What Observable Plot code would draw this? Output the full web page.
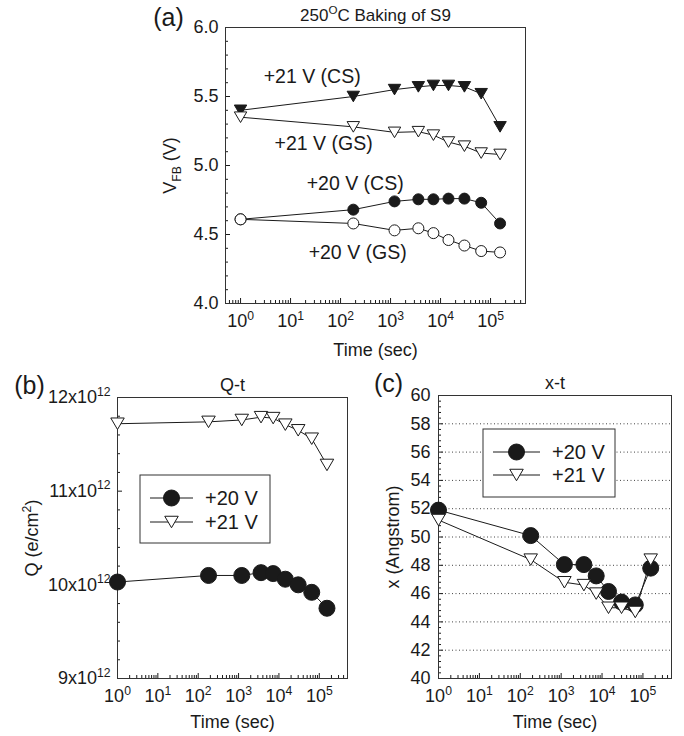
<!DOCTYPE html>
<html><head><meta charset="utf-8">
<script src="https://cdn.jsdelivr.net/npm/d3@7"></script>
<script src="https://cdn.jsdelivr.net/npm/@observablehq/plot@0.6"></script>
<style>
html,body{margin:0;padding:0;background:#fff;}
#fig{position:relative;width:684px;height:736px;overflow:hidden;}
#fig svg{position:absolute;max-width:none;}
</style></head><body><div id="fig"></div>
<script>
// ---------- data ----------
const times   = [1, 180, 1200, 3600, 7200, 14400, 30000, 65000, 155000];
const vfbCS21 = [5.40, 5.50, 5.55, 5.57, 5.58, 5.58, 5.57, 5.52, 5.28];
const vfbGS21 = [5.35, 5.28, 5.24, 5.245, 5.22, 5.17, 5.14, 5.09, 5.08];
const vfbCS20 = [4.61, 4.68, 4.74, 4.755, 4.755, 4.76, 4.76, 4.73, 4.58];
const vfbGS20 = [4.61, 4.58, 4.53, 4.545, 4.51, 4.46, 4.42, 4.38, 4.37];
const q20 = [10.03, 10.10, 10.10, 10.13, 10.12, 10.06, 10.00, 9.92, 9.75];
const q21 = [11.72, 11.74, 11.76, 11.79, 11.78, 11.71, 11.65, 11.56, 11.28];
const x20 = [51.9, 50.1, 48.05, 48.05, 47.25, 46.15, 45.4, 45.2, 47.8];
const x21 = [51.2, 48.4, 46.8, 46.6, 46.0, 45.0, 45.0, 44.7, 48.4];
const seriesNames = ["+20 V", "+21 V"];
const annoText = ["+21 V (CS)", "+21 V (GS)", "+20 V (CS)", "+20 V (GS)"];
const annoT = [2.9, 4.8, 21, 23];
const annoV = [5.64, 5.16, 4.87, 4.37];
const decadeTicks = [1, 10, 100, 1000, 10000, 100000];
const vfbTicks = [4.0, 4.5, 5.0, 5.5, 6.0];
const qTicks = [9, 10, 11, 12];
const xTicks = [40, 42, 44, 46, 48, 50, 52, 54, 56, 58, 60];

// ---------- helpers ----------
const FONT = "'Liberation Sans', Arial, Helvetica, sans-serif";
const INK = "#1a1a1a";
const FS = 18;
const rows = ys => times.map((t, i) => ({t, v: ys[i]}));
const triDown = {draw(ctx, size) {
  const r = Math.sqrt(size / Math.PI), a = 1.35 * r, h = 2.3 * r;
  ctx.moveTo(-a, -h / 2); ctx.lineTo(a, -h / 2); ctx.lineTo(0, h / 2); ctx.closePath();
}};
const supFmt = d => `10^{${Math.round(Math.log10(d))}}`;
function minorLog(lo, hi) {
  const out = [];
  for (let k = -2; k <= 7; k++) for (let m = 2; m <= 9; m++) {
    const v = m * Math.pow(10, k);
    if (v > lo * 1.0001 && v < hi * 0.9999) out.push(v);
  }
  return out;
}
function minorLin(lo, hi, step, major) {
  const out = [];
  const n = Math.round((hi - lo) / step);
  for (let i = 1; i < n; i++) {
    const v = +(lo + i * step).toFixed(6);
    if (!major.some(m => Math.abs(m - v) < 1e-6)) out.push(v);
  }
  return out;
}
function style() {
  return {fontFamily: FONT, fontSize: FS + "px", color: INK, background: "none", overflow: "visible"};
}
function rich(svg) {
  svg.querySelectorAll("text").forEach(el => {
    const s = el.textContent;
    if (!/[\^_]\{/.test(s) || el.querySelector("tspan")) return;
    const fs = parseFloat(getComputedStyle(el).fontSize) || FS;
    el.textContent = "";
    const re = /([\^_])\{([^}]*)\}/g;
    let last = 0, m, shift = 0;
    const add = (txt, kind) => {
      if (!txt) return;
      const ts = document.createElementNS("http://www.w3.org/2000/svg", "tspan");
      const target = kind === "^" ? -0.42 * fs : kind === "_" ? 0.28 * fs : 0;
      const dy = target - shift;
      if (dy) ts.setAttribute("dy", dy.toFixed(2));
      shift = target;
      if (kind) ts.setAttribute("font-size", (0.68 * fs).toFixed(1));
      ts.textContent = txt;
      el.appendChild(ts);
    };
    while ((m = re.exec(s))) { add(s.slice(last, m.index), null); add(m[2], m[1]); last = re.lastIndex; }
    add(s.slice(last), null);
  });
}
function place(svg, left, top) {
  svg.style.left = left + "px"; svg.style.top = top + "px";
  document.getElementById("fig").appendChild(svg);
  rich(svg);
}
function legend(svg, box, rowY, lineX, textX, items) {
  const g = d3.select(svg).append("g");
  g.append("rect").attr("x", box[0]).attr("y", box[1]).attr("width", box[2]).attr("height", box[3])
    .attr("fill", "white").attr("stroke", "#333").attr("stroke-width", 1);
  items.forEach((it, i) => {
    const y = rowY[i];
    g.append("line").attr("x1", lineX[0]).attr("x2", lineX[1]).attr("y1", y).attr("y2", y)
      .attr("stroke", INK).attr("stroke-width", 1);
    g.append("path").attr("d", d3.symbol(it.symbol, Math.PI * it.r * it.r)())
      .attr("transform", `translate(${(lineX[0] + lineX[1]) / 2},${y})`)
      .attr("fill", it.fill).attr("stroke", INK).attr("stroke-width", 1);
    g.append("text").attr("x", textX).attr("y", y).attr("dy", "0.36em").attr("text-anchor", "start")
      .attr("font-family", FONT).attr("font-size", 20).attr("fill", INK).text(it.label);
  });
}
function label(txt, frameAnchor, dx, dy, fontSize, rotate = 0) {
  return Plot.text([txt], {frameAnchor, dx, dy, rotate, text: d => d, fontSize, fill: INK,
    textAnchor: "middle", lineAnchor: "middle"});
}
function axesMarks(innerW, innerH, xMinor, yMajor, yMinor, yFmt, yPad) {
  return [
    Plot.tickX(decadeTicks, {x: d => d, insetTop: innerH - 5, stroke: INK}),
    Plot.tickX(xMinor, {x: d => d, insetTop: innerH - 3, stroke: INK}),
    Plot.tickY(yMajor, {y: d => d, insetRight: innerW - 5, stroke: INK}),
    Plot.tickY(yMinor, {y: d => d, insetRight: innerW - 3, stroke: INK}),
    Plot.axisX({ticks: decadeTicks, tickSize: 0, tickPadding: 11, tickFormat: supFmt, label: null, fontSize: FS}),
    Plot.axisY({ticks: yMajor, tickSize: 0, tickPadding: yPad, tickFormat: yFmt, label: null, fontSize: FS}),
    Plot.frame({stroke: "#333", strokeWidth: 1})
  ];
}

// ---------- panel (a) ----------
{
  const W = 560, H = 360, m = [225, 35, 27, 57];
  const iW = W - m[0] - m[1], iH = H - m[2] - m[3];
  const yDom = [4, 6], xDom = [0.5, 5e5];
  const anno = annoText.map((s, i) => ({s, t: annoT[i], v: annoV[i]}));
  const p = Plot.plot({
    width: W, height: H, marginLeft: m[0], marginRight: m[1], marginTop: m[2], marginBottom: m[3],
    style: style(),
    x: {type: "log", domain: xDom, axis: null},
    y: {domain: yDom, axis: null},
    marks: [
      ...axesMarks(iW, iH, minorLog(...xDom), vfbTicks, minorLin(4, 6, 0.1, vfbTicks), d3.format(".1f"), 7),
      Plot.line(rows(vfbCS21), {x: "t", y: "v", stroke: INK, strokeWidth: 1}),
      Plot.line(rows(vfbGS21), {x: "t", y: "v", stroke: INK, strokeWidth: 1}),
      Plot.line(rows(vfbCS20), {x: "t", y: "v", stroke: INK, strokeWidth: 1}),
      Plot.line(rows(vfbGS20), {x: "t", y: "v", stroke: INK, strokeWidth: 1}),
      Plot.dot(rows(vfbCS21), {x: "t", y: "v", symbol: triDown, r: 4.6, fill: INK, stroke: INK, strokeWidth: 1}),
      Plot.dot(rows(vfbGS21), {x: "t", y: "v", symbol: triDown, r: 4.6, fill: "white", stroke: INK, strokeWidth: 1}),
      Plot.dot(rows(vfbCS20), {x: "t", y: "v", r: 5.5, fill: INK, stroke: INK, strokeWidth: 1}),
      Plot.dot(rows(vfbGS20), {x: "t", y: "v", r: 5.5, fill: "white", stroke: INK, strokeWidth: 1}),
      Plot.text(anno, {x: "t", y: "v", text: "s", textAnchor: "start", fontSize: 19.5, fill: INK}),
      label("250^{O}C Baking of S9", "top", 0, -12, 17),
      label("(a)", "top-left", -57, -10, 25),
      label("V_{FB} (V)", "left", -55, 0, FS, -90),
      label("Time (sec)", "bottom", 0, 47, FS)
    ]
  });
  place(p, 0, 0);
}

// ---------- panel (b) ----------
{
  const W = 350, H = 376, m = [117, 3, 37, 58];
  const iW = W - m[0] - m[1], iH = H - m[2] - m[3];
  const yDom = [9, 12], xDom = [1, 5e5];
  const p = Plot.plot({
    width: W, height: H, marginLeft: m[0], marginRight: m[1], marginTop: m[2], marginBottom: m[3],
    style: style(),
    x: {type: "log", domain: xDom, axis: null},
    y: {domain: yDom, axis: null},
    marks: [
      ...axesMarks(iW, iH, minorLog(...xDom), qTicks, minorLin(9, 12, 0.2, qTicks), d => `${d}x10^{12}`, 7),
      Plot.line(rows(q20), {x: "t", y: "v", stroke: INK, strokeWidth: 1}),
      Plot.line(rows(q21), {x: "t", y: "v", stroke: INK, strokeWidth: 1}),
      Plot.dot(rows(q20), {x: "t", y: "v", r: 8, fill: INK, stroke: INK, strokeWidth: 1}),
      Plot.dot(rows(q21), {x: "t", y: "v", symbol: triDown, r: 5, fill: "white", stroke: INK, strokeWidth: 1}),
      label("Q-t", "top", 0, -12, FS),
      label("(b)", "top-left", -88, -12, 25),
      label("Q (e/cm^{2})", "left", -85, 0, FS, -90),
      label("Time (sec)", "bottom", 0, 44, FS)
    ]
  });
  legend(p, [140, 115, 130, 68], [138, 162], [150, 193], 205, [
    {label: seriesNames[0], symbol: d3.symbolCircle, r: 8, fill: INK},
    {label: seriesNames[1], symbol: triDown, r: 5, fill: "white"}
  ]);
  place(p, 0, 360);
}

// ---------- panel (c) ----------
{
  const W = 334, H = 376, m = [88, 13, 35, 58];
  const iW = W - m[0] - m[1], iH = H - m[2] - m[3];
  const yDom = [40, 60], xDom = [1, 5e5];
  const p = Plot.plot({
    width: W, height: H, marginLeft: m[0], marginRight: m[1], marginTop: m[2], marginBottom: m[3],
    style: style(),
    x: {type: "log", domain: xDom, axis: null},
    y: {domain: yDom, axis: null},
    marks: [
      Plot.gridY(xTicks.slice(1, -1), {stroke: "#444", strokeOpacity: 1, strokeWidth: 1, strokeDasharray: "1,2.5"}),
      ...axesMarks(iW, iH, minorLog(...xDom), xTicks, minorLin(40, 60, 0.4, xTicks), d3.format("d"), 8),
      Plot.line(rows(x20), {x: "t", y: "v", stroke: INK, strokeWidth: 1}),
      Plot.line(rows(x21), {x: "t", y: "v", stroke: INK, strokeWidth: 1}),
      Plot.dot(rows(x20), {x: "t", y: "v", r: 8, fill: INK, stroke: INK, strokeWidth: 1}),
      Plot.dot(rows(x21), {x: "t", y: "v", symbol: triDown, r: 5, fill: "white", stroke: INK, strokeWidth: 1}),
      label("x-t", "top", 0, -12, FS),
      label("(c)", "top-left", -50, -12, 25),
      label("x (Angstrom)", "left", -45, 0, FS, -90),
      label("Time (sec)", "bottom", 0, 44, FS)
    ]
  });
  legend(p, [133, 69, 132, 68], [92, 115], [143, 190], 202, [
    {label: seriesNames[0], symbol: d3.symbolCircle, r: 8, fill: INK},
    {label: seriesNames[1], symbol: triDown, r: 5, fill: "white"}
  ]);
  place(p, 350, 360);
}
</script></body></html>
